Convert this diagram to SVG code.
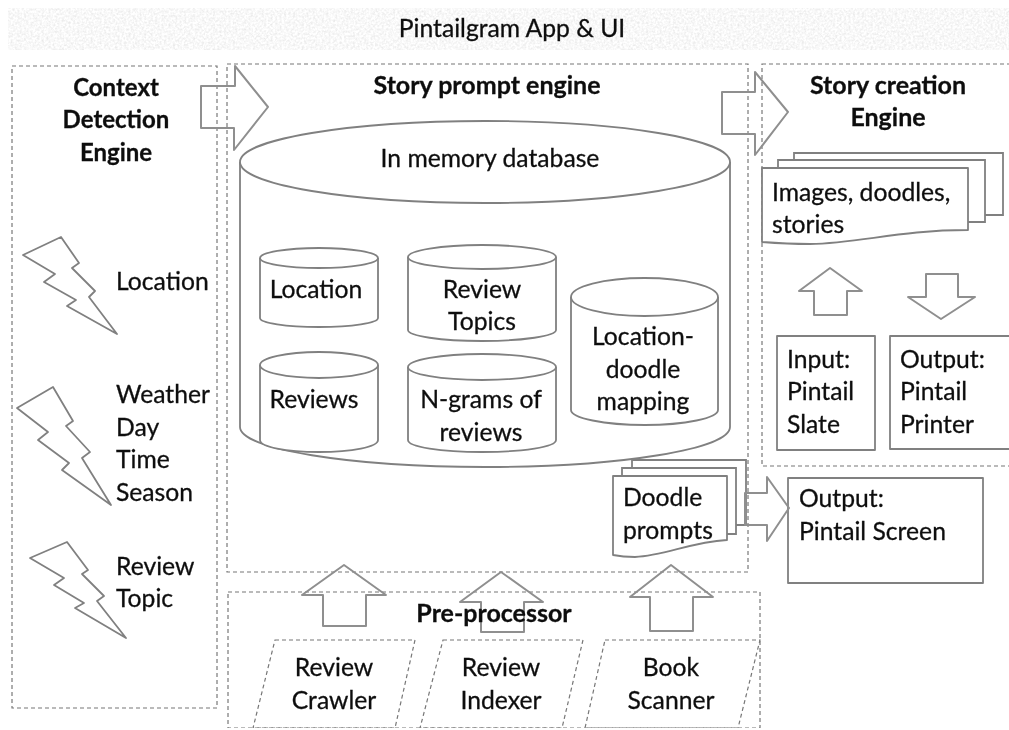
<svg xmlns="http://www.w3.org/2000/svg" width="1009" height="730" viewBox="0 0 1009 730">
<style>
text{font-family:"Lato","Open Sans","Liberation Sans",sans-serif;font-size:24.7px;fill:#111;text-anchor:middle;stroke:#111;stroke-width:.3}
.l{text-anchor:start}
.b{font-weight:700;font-size:25px}
.c{font-size:24px}
.dash{fill:none;stroke:#777;stroke-width:1.2;stroke-dasharray:4 3}
.s{fill:#fff;stroke:#808080;stroke-width:1.8;stroke-linejoin:round}
.a{fill:none;stroke:#8f8f8f;stroke-width:2;stroke-linejoin:round}
.ln{fill:none;stroke:#808080;stroke-width:1.8}
</style>
<defs>
<filter id="soft" x="0" y="0" width="100%" height="100%"><feGaussianBlur stdDeviation="0.55"/></filter>
<filter id="grain" x="0" y="0" width="100%" height="100%">
<feTurbulence type="fractalNoise" baseFrequency="0.45" numOctaves="2" seed="4" result="n"/>
<feColorMatrix in="n" type="matrix" values="0 0 0 0 .78  0 0 0 0 .78  0 0 0 0 .78  1.6 0 0 0 -.55" result="g"/>
<feComposite in="g" in2="SourceAlpha" operator="in"/>
</filter>
</defs>
<rect width="1009" height="730" fill="#fff"/>
<g id="diagram" filter="url(#soft)">
<rect id="banner" x="8" y="8" width="1001" height="42" fill="#000" filter="url(#grain)"/>
<g id="title"><text x="512" y="37">Pintailgram App &amp; UI</text></g>

<g id="context-engine">
<rect class="dash" x="12" y="66" width="205" height="642"/>
<text class="b c" x="116" y="96">Context</text>
<text class="b c" x="116" y="128">Detection</text>
<text class="b c" x="116" y="161">Engine</text>
<path class="s" d="M61 237L79 263L72 268L95 291L89 297L117 334L67 306L76 300L44 282L55 274L23 255Z"/>
<text class="l" x="116" y="290">Location</text>
<path class="s" d="M53 387L73 421L66 426L90 452L82 458L111 505L62 470L69 463L38 440L48 432L17 408Z"/>
<text class="l" x="116" y="403">Weather</text>
<text class="l" x="116" y="436">Day</text>
<text class="l" x="116" y="468">Time</text>
<text class="l" x="116" y="501">Season</text>
<path class="s" d="M67 542L88 570L82 574L104 596L97 601L126 638L75 608L84 603L54 585L64 578L30 558Z"/>
<text class="l" x="116" y="575">Review</text>
<text class="l" x="116" y="607">Topic</text>
</g>

<g id="story-prompt-engine">
<rect class="dash" x="227" y="64" width="521" height="508"/>
<text class="b" x="487" y="94">Story prompt engine</text>
</g>

<g id="in-memory-database">
<path class="s" d="M240 162V427C240 449 350 467 485 467C620 467 730 449 730 427V162"/>
<ellipse class="s" cx="485" cy="162" rx="245" ry="41"/>
<text x="490" y="167">In memory database</text>
</g>

<g id="db-location">
<path class="s" d="M260 258V318C260 323 286 327 319 327C352 327 378 323 378 318V258"/>
<ellipse class="s" cx="319" cy="258" rx="59" ry="10"/>
<text x="316" y="298">Location</text>
</g>
<g id="db-review-topics">
<path class="s" d="M408 257V330C408 336 441 341 482 341C523 341 556 336 556 330V257"/>
<ellipse class="s" cx="482" cy="257" rx="74" ry="12"/>
<text x="482" y="298">Review</text>
<text x="482" y="330">Topics</text>
</g>
<g id="db-reviews">
<path class="s" d="M260 365V440C260 447 286 452 319 452C352 452 378 447 378 440V365"/>
<ellipse class="s" cx="319" cy="365" rx="59" ry="13"/>
<text x="314" y="408">Reviews</text>
</g>
<g id="db-ngrams">
<path class="s" d="M408 367V440C408 447 441 452 482 452C523 452 556 447 556 440V367"/>
<ellipse class="s" cx="482" cy="367" rx="74" ry="13"/>
<text x="481" y="408">N-grams of</text>
<text x="481" y="441">reviews</text>
</g>
<g id="db-location-doodle">
<path class="s" d="M571 297V410C571 418 604 425 645 425C685 425 718 418 718 410V297"/>
<ellipse class="s" cx="644.500" cy="297" rx="73.500" ry="19"/>
<text x="643" y="345">Location-</text>
<text x="643" y="378">doodle</text>
<text x="643" y="410">mapping</text>
</g>

<g id="story-creation-engine">
<rect class="dash" x="762" y="64" width="260" height="402"/>
<text class="b" x="888" y="94">Story creation</text>
<text class="b" x="888" y="126">Engine</text>
</g>
<g id="images-stack">
<path class="ln" d="M794 160V153H1003V215H985"/>
<path class="ln" d="M778 168V160H985V222H968"/>
<path class="s" d="M762 168H968V230C900 230 860 243 810 244C790 244 775 243 762 242Z"/>
<text class="l" x="772" y="201">Images, doodles,</text>
<text class="l" x="772" y="233">stories</text>
</g>
<g id="input-slate">
<rect class="s" x="777" y="336" width="98" height="114"/>
<text class="l" x="787" y="368">Input:</text>
<text class="l" x="787" y="400">Pintail</text>
<text class="l" x="787" y="433">Slate</text>
</g>
<g id="output-printer">
<rect class="s" x="890" y="336" width="125" height="113"/>
<text class="l" x="900" y="368">Output:</text>
<text class="l" x="900" y="400">Pintail</text>
<text class="l" x="900" y="433">Printer</text>
</g>
<g id="doodle-prompts">
<path class="ln" d="M632 468V460H746V525H736"/>
<path class="ln" d="M622 476V468H736V534H727"/>
<path class="s" d="M613 476H727V540C690 542 665 556 635 557C625 557 618 556 613 555Z"/>
<text class="l" x="623" y="506">Doodle</text>
<text class="l" x="623" y="539">prompts</text>
</g>
<g id="output-screen">
<rect class="s" x="788" y="478" width="195" height="105"/>
<text class="l" x="799" y="507">Output:</text>
<text class="l" x="799" y="540">Pintail Screen</text>
</g>

<g id="pre-processor">
<rect class="dash" x="228" y="592" width="532" height="136"/>
</g>
<g id="connectors">
<path class="a" d="M201 86H235V66L268 107L234 150V128H201Z"/>
<path class="a" d="M722 92H755V72L788 112L755 155V134H722Z"/>
<path class="a" d="M745 493H767V477L789 508L767 541V525H745Z"/>
<path class="a" d="M344 565L386 595H366V626H323V595H302Z"/>
<path class="a" d="M501 572L543 602H524V632H481V602H460Z"/>
<path class="a" d="M671 565L713 597H693V631H650V597H630Z"/>
<path class="a" d="M830 268L862 291H847V315H814V291H799Z"/>
<path class="a" d="M926 274H958V297H975L941 319L908 297H926Z"/>
</g>
<g id="pre-label"><text class="b" x="494" y="622">Pre-processor</text></g>
<g id="review-crawler">
<path class="dash" d="M275 640H415L395 728H253Z"/>
<text x="334" y="676">Review</text>
<text x="334" y="709">Crawler</text>
</g>
<g id="review-indexer">
<path class="dash" d="M443 640H583L562 728H420Z"/>
<text x="501" y="676">Review</text>
<text x="501" y="709">Indexer</text>
</g>
<g id="book-scanner">
<path class="dash" d="M605 640H760L738 728H585Z"/>
<text x="671" y="676">Book</text>
<text x="671" y="709">Scanner</text>
</g>
</g>
</svg>
